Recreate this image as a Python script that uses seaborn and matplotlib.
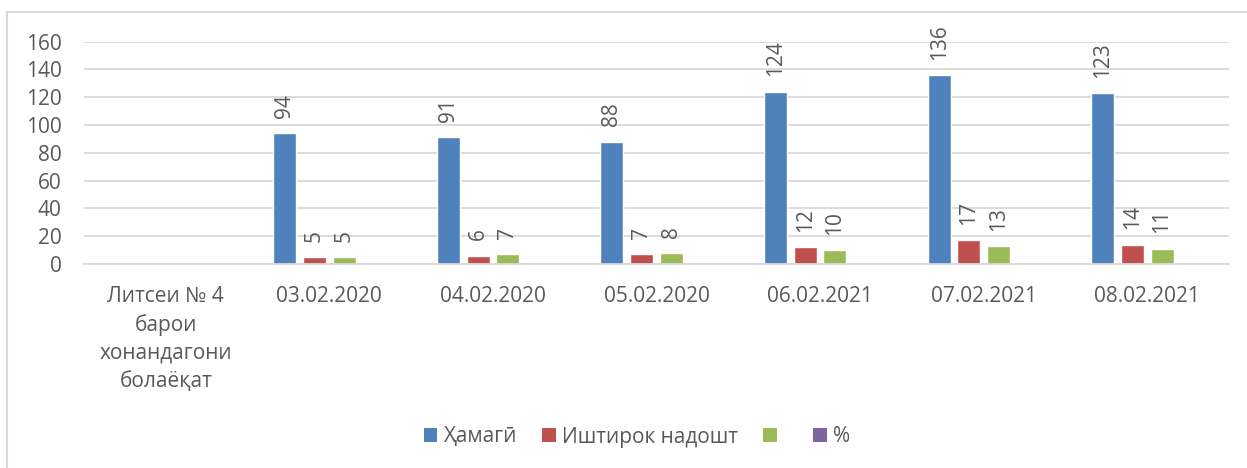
import numpy as np
import pandas as pd
import matplotlib
matplotlib.use("Agg")
import matplotlib.pyplot as plt
import seaborn as sns
from matplotlib.lines import Line2D
from matplotlib.patches import Patch

categories = ["Литсеи № 4\nбарои\nхонандагони\nболаёқат",
              "03.02.2020", "04.02.2020", "05.02.2020",
              "06.02.2021", "07.02.2021", "08.02.2021"]
series = ["Ҳамагӣ", "Иштирок надошт", " ", "%"]
total = [np.nan, 94, 91, 88, 124, 136, 123]
absent = [np.nan, 5, 6, 7, 12, 17, 14]
third = [np.nan, 5, 7, 8, 10, 13, 11]
percent = [np.nan] * 7
colors = ["#4F81BD", "#C0504D", "#9BBB59", "#8064A2"]

rows = []
for name, vals in zip(series, [total, absent, third, percent]):
    for cat, v in zip(categories, vals):
        rows.append({"cat": cat, "series": name, "value": v})
df = pd.DataFrame(rows)

sns.set_style("white")
plt.rcParams["font.family"] = ["Open Sans", "DejaVu Sans"]
text_color = "#595959"
grid_color = "#D9D9D9"

fig = plt.figure(figsize=(12.47, 4.68), dpi=100)
ax = fig.add_axes([84 / 1247, 1 - 264 / 468, 1145 / 1247, (264 - 41.5) / 468])

sns.barplot(data=df, x="cat", y="value", hue="series", order=categories,
            hue_order=series, palette=colors, width=0.726, gap=0.225,
            saturation=1, legend=False, ax=ax)

for c in ax.containers:
    ax.bar_label(c, fmt="%d", rotation=90, padding=11, fontsize=15, color=text_color)

ax.set_ylim(0, 160)
ax.set_xlim(-0.5, 6.5)
ax.set_yticks(range(0, 161, 20))
ax.yaxis.grid(True, color=grid_color, lw=1.3)
ax.set_axisbelow(True)
for s in ["top", "right", "left"]:
    ax.spines[s].set_visible(False)
ax.spines["bottom"].set_color(grid_color)
ax.spines["bottom"].set_linewidth(1.3)
ax.set_xlabel("")
ax.set_ylabel("")
ax.tick_params(axis="y", length=0, pad=16, labelsize=15, labelcolor=text_color)
ax.tick_params(axis="x", length=0, pad=16, labelsize=15, labelcolor=text_color)
for lbl in ax.get_xticklabels():
    lbl.set_linespacing(1.42)
    lbl.set_multialignment("center")

handles = [Patch(facecolor=c, edgecolor="none") for c in colors]
fig.legend(handles, series, loc="center", bbox_to_anchor=(637 / 1247, 1 - 437 / 468),
           ncol=4, frameon=False, fontsize=15, handlelength=0.65, handleheight=0.65,
           handletextpad=0.3, columnspacing=1.2, labelcolor=text_color)

fig.add_artist(Line2D([7 / 1247, 7 / 1247], [0, 1 - 12 / 468],
                      transform=fig.transFigure, color=grid_color, lw=1.5))
fig.add_artist(Line2D([7 / 1247, 1], [1 - 12 / 468, 1 - 12 / 468],
                      transform=fig.transFigure, color=grid_color, lw=1.5))

fig.savefig("out.png", dpi=100)
